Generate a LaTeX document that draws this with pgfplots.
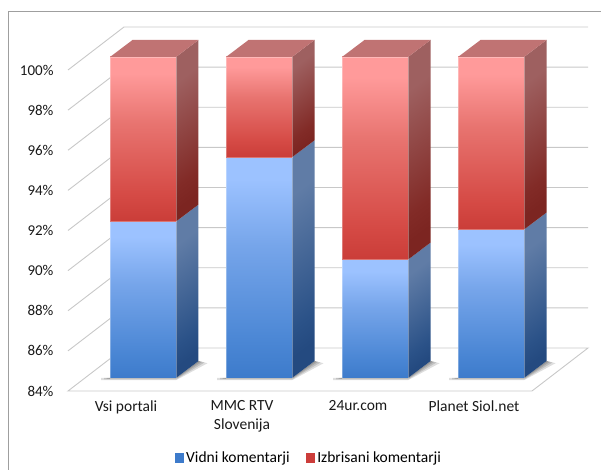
\documentclass[border=0pt]{standalone}
\usepackage{fontspec}
\setmainfont{Carlito}
\usepackage{pgfplots}
\pgfplotsset{compat=1.18}

% 1 category = 116pt, 1 percent = 20.06pt
\pgfmathsetmacro{\hw}{33/116}
\pgfmathsetmacro{\dx}{22.5/116}
\pgfmathsetmacro{\dy}{17/20.06}
% depth of the wall behind the front plane
\pgfmathsetmacro{\wx}{56/116}
\pgfmathsetmacro{\wy}{43/20.06}

\definecolor{bfa}{HTML}{3D7BCB}
\definecolor{bfb}{HTML}{4A86D4}
\definecolor{bfc}{HTML}{76A5EA}
\definecolor{bfd}{HTML}{9CC2FF}
\definecolor{bsa}{HTML}{244A80}
\definecolor{bsb}{HTML}{2B5288}
\definecolor{bsc}{HTML}{607CA6}
\definecolor{rfa}{HTML}{CA3D38}
\definecolor{rfb}{HTML}{D54A45}
\definecolor{rfc}{HTML}{E87470}
\definecolor{rfd}{HTML}{FF9A9A}
\definecolor{rsa}{HTML}{7C2521}
\definecolor{rsb}{HTML}{822B27}
\definecolor{rsc}{HTML}{9E6060}
\pgfdeclareverticalshading{bluefront}{100bp}{color(0bp)=(bfa); color(25bp)=(bfa); color(33bp)=(bfb); color(55bp)=(bfc); color(70bp)=(bfd); color(100bp)=(bfd)}
\pgfdeclareverticalshading{blueside}{100bp}{color(0bp)=(bsa); color(25bp)=(bsa); color(33bp)=(bsb); color(70bp)=(bsc); color(100bp)=(bsc)}
\pgfdeclareverticalshading{redfront}{100bp}{color(0bp)=(rfa); color(25bp)=(rfa); color(33bp)=(rfb); color(55bp)=(rfc); color(70bp)=(rfd); color(100bp)=(rfd)}
\pgfdeclareverticalshading{redside}{100bp}{color(0bp)=(rsa); color(25bp)=(rsa); color(33bp)=(rsb); color(70bp)=(rsc); color(100bp)=(rsc)}
\definecolor{redtop}{HTML}{C07373}
\definecolor{legblue}{HTML}{3D7BCB}
\definecolor{legred}{HTML}{CC3D3A}
\definecolor{gridc}{HTML}{C8C8C8}

\tikzset{barplane/.style={xshift=17pt,yshift=13pt}}

% wall gridline at one percent value
\newcommand{\gridline}[1]{%
  \pgfmathsetmacro{\xa}{-0.5+\wx}%
  \pgfmathsetmacro{\xb}{3.5+\wx}%
  \pgfmathsetmacro{\ya}{#1+\wy}%
  \addplot[forget plot,gridc,line width=0.9pt] coordinates {(-0.5,#1) (\xa,\ya) (\xb,\ya)};
}
% one stacked segment: category, from, to, front shading, side shading
\newcommand{\segment}[5]{%
  \pgfmathsetmacro{\xa}{#1-\hw}%
  \pgfmathsetmacro{\xb}{#1+\hw}%
  \pgfmathsetmacro{\xc}{\xb+\dx}%
  \pgfmathsetmacro{\ya}{#2+\dy}%
  \pgfmathsetmacro{\yb}{#3+\dy}%
  \addplot[forget plot,barplane,shade,shading=#5,shading angle=37,draw=none]
    coordinates {(\xb,#2) (\xc,\ya) (\xc,\yb) (\xb,#3)} --cycle;
  \addplot[forget plot,barplane,shade,shading=#4,draw=white,draw opacity=0.3,line width=0.5pt]
    coordinates {(\xa,#2) (\xb,#2) (\xb,#3) (\xa,#3)} --cycle;
}
% soft shadow at the foot of a bar: category, spread in pt
\newcommand{\shadowlayer}[2]{%
  \pgfmathsetmacro{\xa}{#1-\hw-#2/116}%
  \pgfmathsetmacro{\xb}{#1+\hw}%
  \pgfmathsetmacro{\xc}{#1+\hw+\dx+#2/116}%
  \pgfmathsetmacro{\xd}{#1+\hw+\dx}%
  \pgfmathsetmacro{\ya}{84-0.25*#2/20.06}%
  \pgfmathsetmacro{\yb}{84+\dy-0.25*#2/20.06}%
  \pgfmathsetmacro{\yc}{84+\dy}%
  \addplot[forget plot,barplane,fill=black,fill opacity=0.13,draw=none]
    coordinates {(\xa,\ya) (\xb,\ya) (\xc,\yb) (\xd,\yc) (\xb,84) (\xa,84)} --cycle;
}
\newcommand{\stackbar}[2]{%
  \shadowlayer{#1}{9}\shadowlayer{#1}{6}\shadowlayer{#1}{3.5}\shadowlayer{#1}{1.5}%
  \segment{#1}{84}{#2}{bluefront}{blueside}%
  \segment{#1}{#2}{100}{redfront}{redside}%
  \pgfmathsetmacro{\xa}{#1-\hw}%
  \pgfmathsetmacro{\xb}{#1+\hw}%
  \pgfmathsetmacro{\xc}{\xb+\dx}%
  \pgfmathsetmacro{\xd}{\xa+\dx}%
  \pgfmathsetmacro{\yb}{100+\dy}%
  \addplot[forget plot,barplane,fill=redtop,draw=none]
    coordinates {(\xa,100) (\xb,100) (\xc,\yb) (\xd,\yb)} --cycle;
}

\begin{document}
\begin{tikzpicture}
\useasboundingbox (0,0) rectangle (601pt,470pt);
\draw[color=gray!75,line width=1pt] (8pt,0) -- (8pt,458pt) -- (601pt,458pt);
\begin{axis}[
  at={(68pt,79pt)}, anchor=south west,
  scale only axis, width=464pt, height=321pt,
  clip=false,
  xmin=-0.5, xmax=3.5, ymin=84, ymax=100,
  axis line style={draw=none},
  tick style={draw=none},
  xtick={0,1,2,3},
  xticklabels={Vsi portali,{MMC RTV\\Slovenija},24ur.com,Planet Siol.net},
  xticklabel style={align=center,font=\fontsize{15.5}{19}\selectfont,yshift=-6pt,color=black!90},
  ytick={84,86,...,100},
  yticklabel={\pgfmathprintnumber{\tick}\%},
  yticklabel style={font=\fontsize{15}{18}\selectfont,xshift=-11pt,color=black!90},
  /pgf/number format/assume math mode=true,
  legend style={at={(axis description cs:0.519,-0.209)},anchor=center,draw=none,fill=none,
    font=\fontsize{15.5}{18}\selectfont,legend columns=2,
    /tikz/every even column/.append style={column sep=14pt}},
  legend image code/.code={\fill[#1] (0pt,-4.5pt) rectangle (9.5pt,5pt);},
]
% floor and wall grid
\gridline{86}\gridline{88}\gridline{90}\gridline{92}
\gridline{94}\gridline{96}\gridline{98}\gridline{100}
\pgfmathsetmacro{\xf}{3.5+\wx}
\pgfmathsetmacro{\xg}{-0.5+\wx}
\pgfmathsetmacro{\yf}{84+\wy}
\addplot[forget plot,gridc,line width=0.9pt] coordinates {(\xg,\yf) (-0.5,84) (3.5,84) (\xf,\yf) (\xg,\yf)};

\addlegendimage{fill=legblue,draw=none}
\addlegendentry{Vidni komentarji}
\addlegendimage{fill=legred,draw=none}
\addlegendentry{Izbrisani komentarji}

\stackbar{0}{91.8}
\stackbar{1}{95}
\stackbar{2}{89.9}
\stackbar{3}{91.4}
\end{axis}
\end{tikzpicture}
\end{document}
